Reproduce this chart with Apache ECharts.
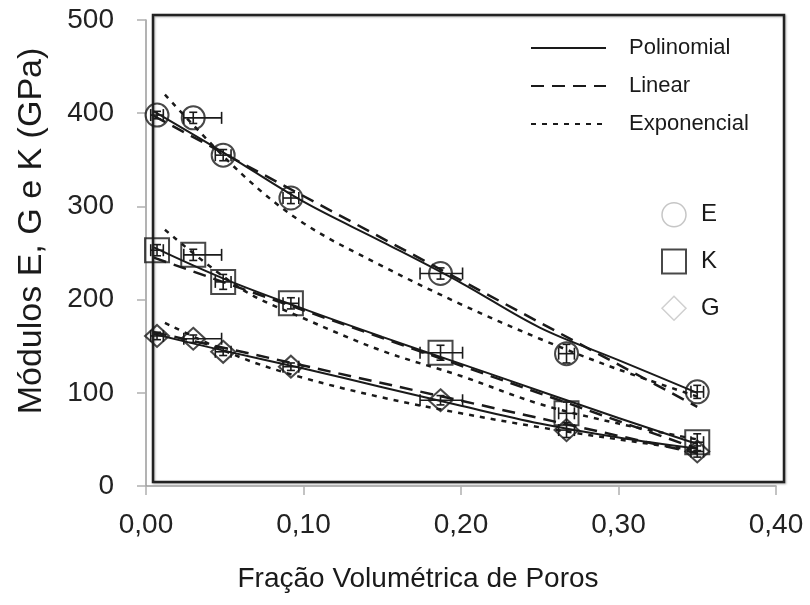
<!DOCTYPE html>
<html>
<head>
<meta charset="utf-8">
<script src="https://cdn.jsdelivr.net/npm/echarts@6/dist/echarts.min.js"></script>
<style>html,body{margin:0;padding:0;background:#fff}#c{width:810px;height:605px}</style>
</head>
<body>
<div id="c"></div>
<script>
// measured points
const xVals = [0.007, 0.030, 0.049, 0.092, 0.187, 0.267, 0.350];
const eVals = [398, 395, 355, 309, 228, 142, 101];
const kVals = [253, 248, 219, 196, 143, 78, 47];
const gVals = [161, 158, 144, 128, 92, 60, 37];
// error bars
const xErrLow  = [0.004, 0.006, 0.005, 0.005, 0.013, 0.005, 0.004];
const xErrHigh = [0.004, 0.018, 0.005, 0.005, 0.014, 0.005, 0.004];
const eErr = [4, 6, 6, 6, 6, 10, 7];
const kErr = [6, 6, 8, 6, 8, 12, 9];
const gErr = [4, 4, 4, 4, 5, 8, 6];
// fitted curves
const polyX = [0.005, 0.05, 0.10, 0.15, 0.20, 0.25, 0.30, 0.35];
const ePoly = [402, 357, 305, 262, 218, 170, 135, 100];
const kPoly = [256, 222, 190, 160, 131, 102, 73, 45];
const gPoly = [163, 145, 126, 106, 86, 67, 52, 40];
const linX = [0.005, 0.35];
const eLin = [397, 85];
const kLin = [245, 40];
const gLin = [165, 35];
const expX = [0.012, 0.06, 0.10, 0.15, 0.20, 0.25, 0.30, 0.35];
const eExp = [420, 336, 282, 236, 195, 158, 125, 96];
const kExp = [275, 212, 180, 145, 118, 88, 67, 50];
const gExp = [175, 138, 116, 95, 78, 63, 50, 38];
// axes
const xTicks = [0, 0.1, 0.2, 0.3, 0.4];
const yTicks = [0, 100, 200, 300, 400, 500];

const FONT = 'Liberation Sans';
const INK = '#1a1a1a';
const pairs = (xs, ys) => xs.map((x, i) => [x, ys[i]]);

function fitSeries(name, xs, ys, type, smooth) {
  const ls = {color: INK, width: 2};
  if (type === 'dashed') { ls.type = [13, 8]; ls.width = 2.5; }
  if (type === 'dotted') { ls.type = [5, 6]; ls.width = 2.5; }
  return {
    name: name, type: 'line', data: pairs(xs, ys), symbol: 'none', smooth: smooth ? 0.35 : false,
    lineStyle: ls, itemStyle: {color: INK}, z: 3, silent: true
  };
}
function markerSeries(name, ys, symbol, size) {
  return {
    name: name, type: 'scatter', data: pairs(xVals, ys), symbol: symbol, symbolSize: size,
    itemStyle: {color: 'rgba(0,0,0,0)', borderColor: INK, borderWidth: 2}, z: 5
  };
}
function errSeries(ys, yErr) {
  const data = xVals.map((x, i) => [x, ys[i], xErrLow[i], xErrHigh[i], yErr[i]]);
  return {
    type: 'custom', name: 'err', data: data, z: 6, silent: true,
    renderItem: function (params, api) {
      const x = api.value(0), y = api.value(1);
      const c = api.coord([x, y]);
      const l = api.coord([x - api.value(2), y]);
      const r = api.coord([x + api.value(3), y]);
      const t = api.coord([x, y + api.value(4)]);
      const b = api.coord([x, y - api.value(4)]);
      const st = {stroke: INK, lineWidth: 1.6};
      const cap = 6;
      return {
        type: 'group', children: [
          {type: 'line', shape: {x1: l[0], y1: c[1], x2: r[0], y2: c[1]}, style: st},
          {type: 'line', shape: {x1: l[0], y1: c[1] - cap, x2: l[0], y2: c[1] + cap}, style: st},
          {type: 'line', shape: {x1: r[0], y1: c[1] - cap, x2: r[0], y2: c[1] + cap}, style: st},
          {type: 'line', shape: {x1: c[0], y1: t[1], x2: c[0], y2: b[1]}, style: st},
          {type: 'line', shape: {x1: c[0] - 4, y1: t[1], x2: c[0] + 4, y2: t[1]}, style: st},
          {type: 'line', shape: {x1: c[0] - 4, y1: b[1], x2: c[0] + 4, y2: b[1]}, style: st}
        ]
      };
    }
  };
}

const chart = echarts.init(document.getElementById('c'), null, {renderer: 'canvas'});
chart.setOption({
  backgroundColor: '#fff',
  animation: false,
  textStyle: {fontFamily: FONT},
  grid: [
    {left: 146, right: 34, top: 20, bottom: 119},
    {left: 153, right: 26, top: 15, bottom: 123, show: true, borderColor: '#222', borderWidth: 2.5,
     backgroundColor: 'rgba(0,0,0,0)', shadowColor: 'rgba(0,0,0,0.3)', shadowBlur: 2, shadowOffsetX: 1, shadowOffsetY: 1}
  ],
  xAxis: [{
    type: 'value', gridIndex: 0, min: xTicks[0], max: xTicks[xTicks.length - 1], interval: 0.1,
    name: 'Fração Volumétrica de Poros', nameLocation: 'middle', nameGap: 79,
    nameTextStyle: {fontSize: 28, color: INK, fontFamily: FONT, padding: [0, 86, 0, 0]},
    axisLine: {show: true, lineStyle: {color: '#9a9a9a', width: 1.5}},
    axisTick: {show: true, length: 9, lineStyle: {color: '#b0b0b0', width: 1.5}},
    splitLine: {show: false},
    axisLabel: {fontSize: 28, color: '#222', margin: 25, fontFamily: FONT,
      formatter: v => v.toFixed(2).replace('.', ',')}
  }, {
    type: 'value', gridIndex: 1, show: false, min: 0, max: 1
  }],
  yAxis: [{
    type: 'value', gridIndex: 0, min: yTicks[0], max: yTicks[yTicks.length - 1], interval: 100,
    name: 'Módulos E, G e K (GPa)', nameLocation: 'middle', nameGap: 97, nameRotate: 90,
    nameTextStyle: {fontSize: 34, color: INK, fontFamily: FONT, padding: [0, 0, 0, 44]},
    axisLine: {show: true, lineStyle: {color: '#9a9a9a', width: 1.5}},
    axisTick: {show: true, length: 9, lineStyle: {color: '#b0b0b0', width: 1.5}},
    splitLine: {show: false},
    axisLabel: {fontSize: 28, color: '#222', margin: 32, fontFamily: FONT}
  }, {
    type: 'value', gridIndex: 1, show: false, min: 0, max: 1
  }],
  legend: [{
    orient: 'vertical', left: 525, top: 32, itemWidth: 75, itemHeight: 14, itemGap: 16,
    data: ['Polinomial', 'Linear', 'Exponencial'],
    itemStyle: {color: 'rgba(0,0,0,0)', borderColor: 'rgba(0,0,0,0)', borderWidth: 0},
    textStyle: {fontSize: 22, color: INK, fontFamily: FONT, padding: [0, 0, 0, 18]},
    selectedMode: false
  }, {
    orient: 'vertical', left: 656, top: 197, itemWidth: 24, itemHeight: 24, itemGap: 21,
    data: [
      {name: 'E', icon: 'circle', itemStyle: {color: 'rgba(0,0,0,0)', borderColor: '#b8b8b8', borderWidth: 1.5}},
      {name: 'K', icon: 'rect', itemStyle: {color: 'rgba(0,0,0,0)', borderColor: INK, borderWidth: 2}},
      {name: 'G', icon: 'diamond', itemStyle: {color: 'rgba(0,0,0,0)', borderColor: '#c4c4c4', borderWidth: 1.5}}
    ],
    textStyle: {fontSize: 24, color: INK, fontFamily: FONT, padding: [0, 0, 0, 10]},
    selectedMode: false
  }],
  series: [
    fitSeries('Polinomial', polyX, ePoly, 'solid', true),
    fitSeries('Linear', linX, eLin, 'dashed', false),
    fitSeries('Exponencial', expX, eExp, 'dotted', true),
    fitSeries('Polinomial', polyX, kPoly, 'solid', true),
    fitSeries('Linear', linX, kLin, 'dashed', false),
    fitSeries('Exponencial', expX, kExp, 'dotted', true),
    fitSeries('Polinomial', polyX, gPoly, 'solid', true),
    fitSeries('Linear', linX, gLin, 'dashed', false),
    fitSeries('Exponencial', expX, gExp, 'dotted', true),
    errSeries(eVals, eErr),
    errSeries(kVals, kErr),
    errSeries(gVals, gErr),
    markerSeries('E', eVals, 'circle', 23),
    markerSeries('K', kVals, 'rect', 24),
    markerSeries('G', gVals, 'diamond', [24, 22])
  ]
});
</script>
</body>
</html>
